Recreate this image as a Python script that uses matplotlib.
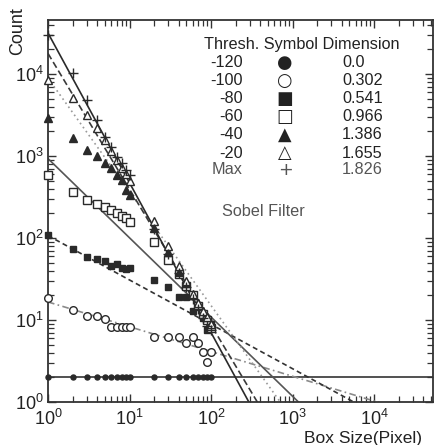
import numpy as np
import matplotlib
matplotlib.use("Agg")
import matplotlib.pyplot as plt

plt.rcParams['font.family'] = ['Liberation Sans', 'DejaVu Sans']
plt.rcParams['mathtext.fontset'] = 'custom'
plt.rcParams['mathtext.rm'] = 'Liberation Sans'
plt.rcParams['mathtext.it'] = 'Liberation Sans'
plt.rcParams['mathtext.bf'] = 'Liberation Sans:bold'

# ---------------- data ----------------
box_size = [1, 2, 3, 4, 5, 6, 7, 8, 9, 10, 20, 30, 40, 50, 60, 70, 80, 90, 100]

thresholds = ["-120", "-100", "-80", "-60", "-40", "-20", "Max"]
dimensions = ["0.0", "0.302", "0.541", "0.966", "1.386", "1.655", "1.826"]
slopes = [0.0, 0.302, 0.541, 0.966, 1.386, 1.655, 1.826]
# fitted count at box size 1
fit_intercept = [2.0, 16.6, 107, 930, 8900, 17800, 31600]

count_m120 = [2, 2, 2, 2, 2, 2, 2, 2, 2, 2, 2, 2, 2, 2, 2, 2, 2, 2, 2]
count_m100 = [18.5, 13.2, 11.2, 11.2, 10.3, 8.2, 8.2, 8.2, 8.2, 8.2,
              6.2, 6.2, 6.2, 5.2, 6.2, 5.2, 4.1, 3.1, 4.1]
count_m80 = [110, 74, 59, 55, 52, 46, 48, 43, 42, 43,
             31, 25, 19, 19, 13, 15, 10.6, 7.6, 9]
count_m60 = [590, 365, 290, 260, 240, 220, 200, 185, 175, 157,
             90, 54, 36, 26, 20, 15, 12, 10, 8]
count_m40 = [2900, 1650, 1180, 1000, 820, 710, 590, 505, 385, 335,
             132, 67, 39, 28, 20, 16, 13, 11, 9]
count_m20 = [8500, 5100, 3150, 2200, 1580, 1150, 900, 720, 600, 500,
             160, 80, 45, 30, 21, 16, 13, 11, 9]
count_max = [30000, 10200, 4800, 2750, 1700, 1300, 980, 820, 675, 590,
             130, 63, 37, 25, 18, 13.5, 10.5, 8.5, 7.5]

series = [count_m120, count_m100, count_m80, count_m60, count_m40, count_m20, count_max]

# ---------------- styles ----------------
dark = '#2a2a2a'
markers = ['o', 'o', 's', 's', '^', '^', '+']
msizes = [3.6, 5.5, 5, 5.5, 5.5, 5.5, 7]
mfaces = [dark, 'white', dark, 'white', dark, 'white', dark]
line_styles = ['-', (0, (4, 2, 1, 2)), (0, (3, 2)), '-', (0, (1, 2)), (0, (4, 2)), '-']
line_colors = ['#333333', '#8a8a8a', '#333333', '#555555', '#999999', '#3a3a3a', '#2a2a2a']
symbols = ['●', '○', '■', '□', '▲', '△', '+']

fig = plt.figure(figsize=(4.38, 4.45), dpi=100)
ax = fig.add_axes([48/438, 43/445, 385/438, 382/445])
ax.set_xscale('log')
ax.set_yscale('log')
xmin, xmax = 1, 10**(385/81.5)
ymin, ymax = 1, 10**(382/82)
ax.set_xlim(xmin, xmax)
ax.set_ylim(ymin, ymax)

xfit = np.array([xmin, xmax])
for i in range(len(series)):
    yfit = fit_intercept[i] * xfit ** (-slopes[i])
    ax.plot(xfit, yfit, linestyle=line_styles[i], color=line_colors[i],
            lw=1.2, zorder=2)
for i, s in enumerate(series):
    ax.plot(box_size, s, linestyle='none', marker=markers[i], ms=msizes[i],
            mfc=mfaces[i], mec=dark, mew=1.0, zorder=3, clip_on=False)

# ticks
ax.tick_params(which='both', direction='in', top=True, right=True, color='#333333')
ax.tick_params(which='major', length=6, width=1.0, labelsize=13, pad=3)
ax.tick_params(which='minor', length=4, width=0.9)
ax.tick_params(axis='x', which='major', pad=5)
ax.xaxis.set_major_locator(matplotlib.ticker.LogLocator(base=10, numticks=10))
ax.yaxis.set_major_locator(matplotlib.ticker.LogLocator(base=10, numticks=10))
ax.xaxis.set_minor_locator(matplotlib.ticker.LogLocator(base=10, subs=np.arange(2, 10), numticks=20))
ax.yaxis.set_minor_locator(matplotlib.ticker.LogLocator(base=10, subs=np.arange(2, 10), numticks=20))
for sp in ax.spines.values():
    sp.set_linewidth(1.3)
    sp.set_color('#333333')
for lab in ax.get_xticklabels() + ax.get_yticklabels():
    lab.set_color('#222222')

# axis labels
fig.text(18/438, 1 - 31/445, 'Count', rotation=90, ha='center', va='center',
         fontsize=13, color='#222222')
fig.text(363/438, 1 - 438/445, 'Box Size(Pixel)', ha='center', va='center',
         fontsize=12.5, color='#222222')

# legend table
def axy(py):
    return 1 - (py - 20) / 382

fs = 11.7
ax.text((204 - 48)/385, axy(45), 'Thresh. Symbol Dimension', transform=ax.transAxes,
        ha='left', va='center', fontsize=fs, color='#222222')
row_y = [63, 81, 99, 117, 135, 153, 170]
for i in range(len(thresholds)):
    c = '#555555' if thresholds[i] == 'Max' else '#222222'
    ax.text((243 - 48)/385, axy(row_y[i]), thresholds[i], transform=ax.transAxes,
            ha='right', va='center', fontsize=fs, color=c)
    ax.text((285 - 48)/385, axy(row_y[i]), symbols[i], transform=ax.transAxes,
            ha='center', va='center', fontsize=fs + 1, color=c,
            family=['DejaVu Sans'])
    ax.text((342 - 48)/385, axy(row_y[i]), dimensions[i], transform=ax.transAxes,
            ha='left', va='center', fontsize=fs, color=c)
ax.text((263 - 48)/385, axy(212), 'Sobel Filter', transform=ax.transAxes,
        ha='center', va='center', fontsize=fs, color='#555555')

fig.savefig('out.png', dpi=100)
